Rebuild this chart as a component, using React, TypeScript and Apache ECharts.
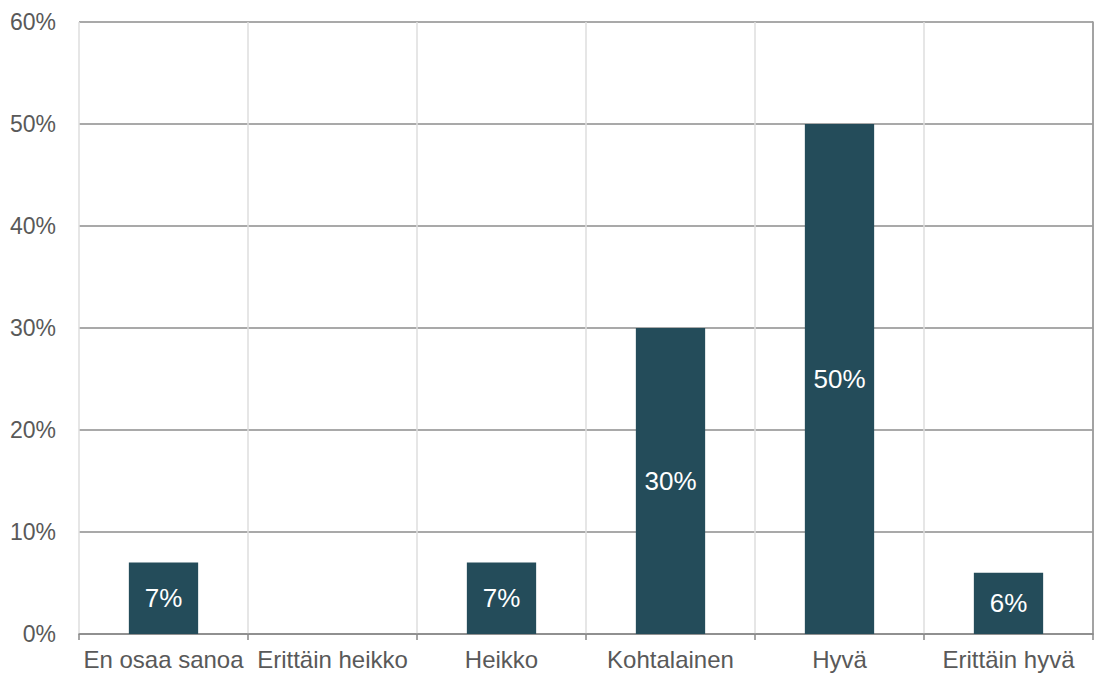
import React, { useEffect, useRef } from "react";
import * as echarts from "echarts";

const categories = ["En osaa sanoa", "Erittäin heikko", "Heikko", "Kohtalainen", "Hyvä", "Erittäin hyvä"];
const values = [7, 0, 7, 30, 50, 6];
const yTicks = [0, 10, 20, 30, 40, 50, 60];

export default function App() {
  const ref = useRef<HTMLDivElement>(null);
  useEffect(() => {
    const chart = echarts.init(ref.current!, null, { renderer: "svg" });
    const font = "'Liberation Sans', Arial, sans-serif";
    chart.setOption({
      animation: false,
      grid: { left: 79, right: 7, top: 22, bottom: 39, containLabel: false },
      xAxis: {
        type: "category",
        data: categories,
        axisLine: { show: true, lineStyle: { color: "#888888", width: 1.5 } },
        axisTick: { show: true, length: 6, lineStyle: { color: "#888888", width: 1.5 } },
        axisLabel: { color: "#595959", fontSize: 24, fontFamily: font, margin: 13, interval: 0 },
        splitLine: { show: true, lineStyle: { color: "#dedede", width: 1.5 } },
      },
      yAxis: [
        {
          type: "value",
          min: yTicks[0],
          max: yTicks[yTicks.length - 1],
          interval: 10,
          axisLine: { show: false },
          axisTick: { show: false },
          axisLabel: { color: "#595959", fontSize: 23, fontFamily: font, margin: 23, formatter: "{value}%" },
          splitLine: { show: true, lineStyle: { color: "#8c8c8c", width: 1.5 } },
        },
        {
          type: "value",
          position: "right",
          min: yTicks[0],
          max: yTicks[yTicks.length - 1],
          interval: 10,
          axisLine: { show: true, lineStyle: { color: "#8c8c8c", width: 1.5 } },
          axisTick: { show: false },
          axisLabel: { show: false },
          splitLine: { show: false },
        },
      ],
      series: [
        {
          type: "bar",
          data: values.map((v) => (v === 0 ? null : v)),
          barWidth: "41%",
          itemStyle: { color: "#244C5A" },
          label: {
            show: true,
            position: "inside",
            color: "#ffffff",
            fontSize: 26,
            fontFamily: font,
            formatter: "{c}%",
          },
        },
      ],
    });
    return () => chart.dispose();
  }, []);
  return <div ref={ref} style={{ width: 1100, height: 673, position: "absolute", left: 0, top: 0 }} />;
}
